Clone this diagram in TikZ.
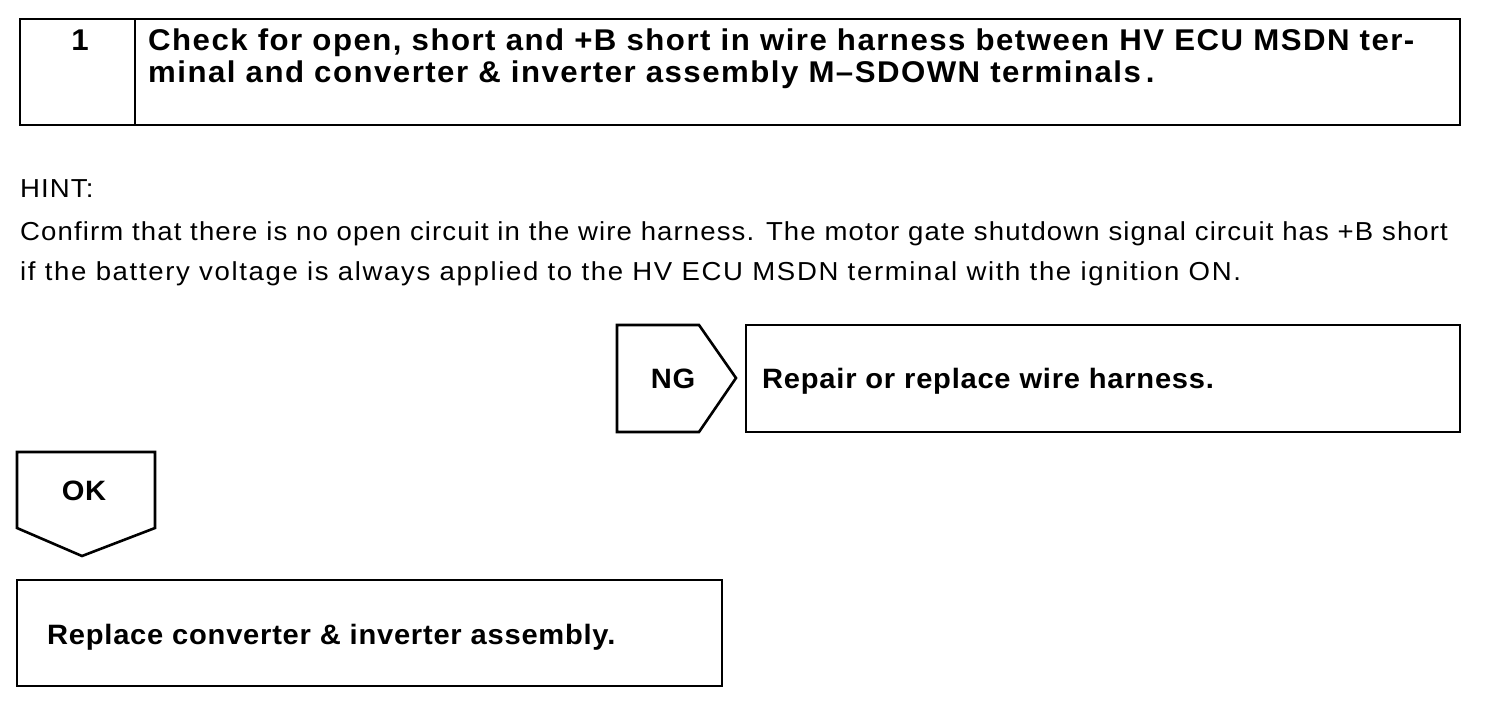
\documentclass[tikz,border=0pt]{standalone}
\usepackage{fontspec}
\setmainfont{Liberation Sans}
\newfontfamily\titlefont[FakeStretch=1.04,LetterSpace=4.9]{Liberation Sans}
\newfontfamily\labelfont[FakeStretch=1.04,LetterSpace=2.7]{Liberation Sans}
\newfontfamily\hintfont[FakeStretch=1.06,LetterSpace=4.3]{Liberation Sans}
\newfontfamily\hintfontb[FakeStretch=1.06,LetterSpace=6.3]{Liberation Sans}
\begin{document}
\begin{tikzpicture}[x=1pt,y=-1pt,
  box/.style={draw,line width=2.6pt,line join=miter},
  bt/.style={font=\titlefont\fontsize{30}{32}\selectfont\bfseries,inner sep=0pt,anchor=base west},
  lt/.style={font=\labelfont\fontsize{28}{30}\selectfont\bfseries,inner sep=0pt,anchor=base west},
  ht/.style={font=\hintfont\fontsize{26}{30}\selectfont,inner sep=0pt,anchor=base west},
  htb/.style={font=\hintfontb\fontsize{26}{30}\selectfont,inner sep=0pt,anchor=base west}]
\useasboundingbox (0,0) rectangle (1504,710);
% step box
\draw[box] (20,19) rectangle (1460,125);
\draw[box] (135,19) -- (135,125);
\node[bt,anchor=base] (num) at (80,50) {1};
\node[bt] (t1) at (148,50) {Check for open, short and +B short in wire harness between HV ECU MSDN ter-};
\node[bt] (t2) at (148,82) {minal and converter \& inverter assembly M–SDOWN terminals\,.};
% hint
\node[ht] (hint) at (20,197) {HINT:};
\node[ht] (h1) at (20,240) {Confirm that there is no open circuit in the wire harness. The motor gate shutdown signal circuit has +B short};
\node[htb] (h2) at (20,280) {if the battery voltage is always applied to the HV ECU MSDN terminal with the ignition ON.};
% NG
\draw[box] (617,325) -- (699,325) -- (736,378) -- (699,432) -- (617,432) -- cycle;
\node[lt,anchor=base] (ng) at (673,388) {NG};
\draw[box] (746,325) rectangle (1460,432);
\node[lt] (repair) at (762,388) {Repair or replace wire harness.};
% OK
\draw[box] (17,452) -- (155,452) -- (155,528) -- (82,556) -- (17,528) -- cycle;
\node[lt,anchor=base] (ok) at (84,500) {OK};
\draw[box] (17,580) rectangle (722,686);
\node[lt] (replace) at (47,644) {Replace converter \& inverter assembly.};
\end{tikzpicture}
\end{document}
